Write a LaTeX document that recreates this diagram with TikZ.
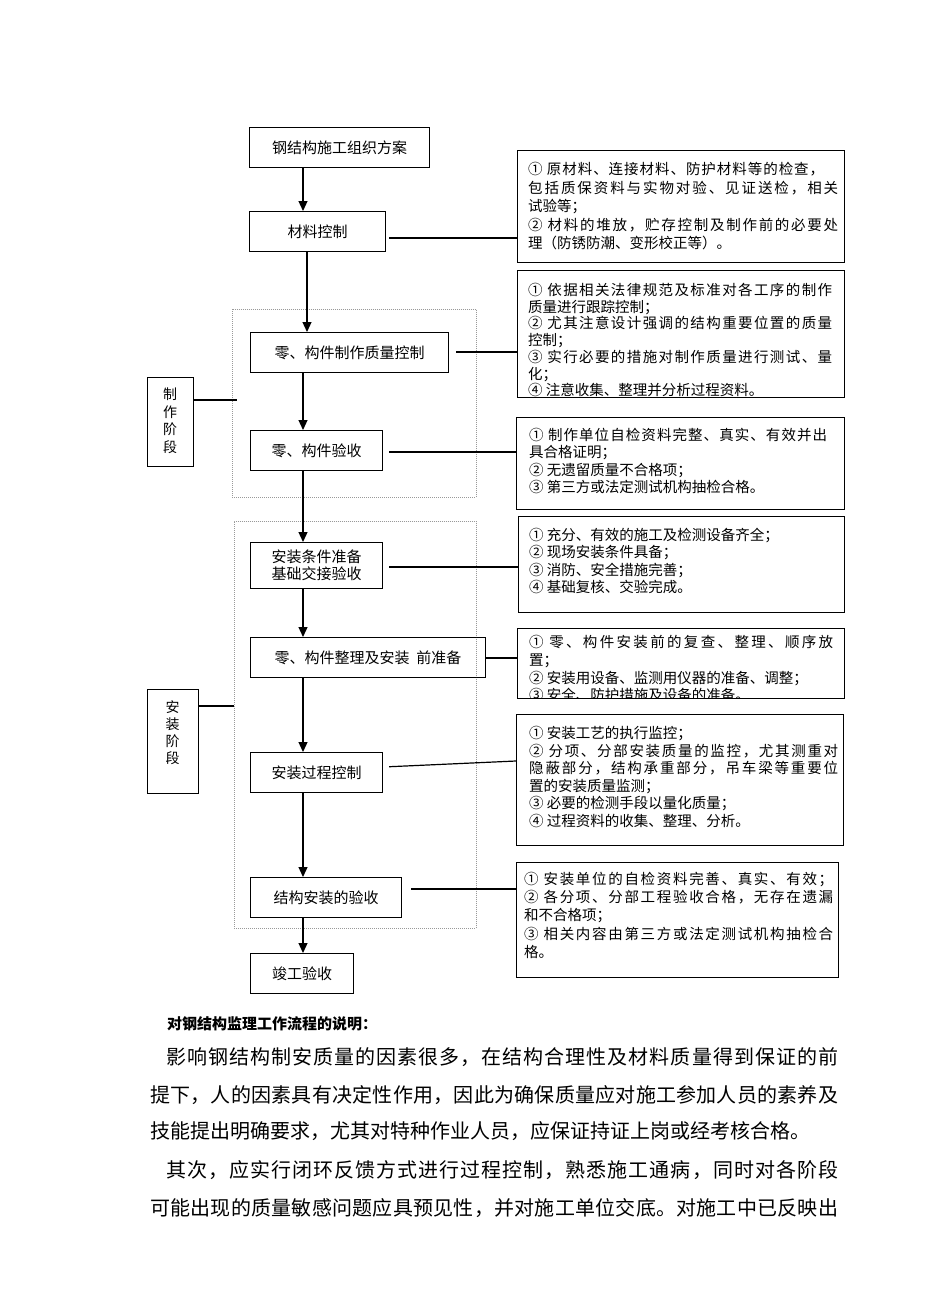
\documentclass[tikz,border=0pt]{standalone}
\usepackage{fontspec}
\setmainfont{Noto Sans CJK SC}
\usetikzlibrary{arrows.meta}
\newcommand\jl[2]{\makebox[#1][s]{\jla#2\relax}}
\def\jla#1#2{#1\ifx#2\relax\else\hfil\expandafter\jla\expandafter#2\fi}
\tikzset{
  flowbox/.style={draw, line width=1.2pt, inner sep=0pt, anchor=north west, align=center, font=\fontsize{15}{17}\selectfont},
  notebox/.style={draw, line width=1.2pt, inner sep=0pt, anchor=north west},
  notetext/.style={inner sep=0pt, anchor=base west, align=left},
  phasetext/.style={inner sep=0pt, anchor=base, align=center},
  stageframe/.style={draw=gray!80, line width=0.8pt, dash pattern=on 1pt off 1pt, inner sep=0pt, anchor=north west},
  conn/.style={line width=1.2pt},
  arr/.style={line width=1.2pt, -{Triangle[length=10pt,width=9pt]}},
  paraline/.style={inner sep=0pt, anchor=base west, font=\fontsize{20}{24}\selectfont},
}
\begin{document}
\begin{tikzpicture}[x=1pt,y=-1pt]
\useasboundingbox (0,0) rectangle (950,1316);
\fill[white] (0,0) rectangle (950,1316);

% stage frames
\node[stageframe, minimum width=244pt, minimum height=188pt] (f1) at (232,309) {};
\node[stageframe, minimum width=242pt, minimum height=407pt] (f2) at (234,521) {};

% flow boxes
\node[flowbox, minimum width=180pt, minimum height=40pt] (b1) at (249,127) {钢结构施工组织方案};
\node[flowbox, minimum width=136pt, minimum height=40pt] (b2) at (249,211) {材料控制};
\node[flowbox, minimum width=198pt, minimum height=40pt] (b3) at (250,332) {零、构件制作质量控制};
\node[flowbox, minimum width=132pt, minimum height=40pt] (b4) at (250,430) {零、构件验收};
\node[flowbox, minimum width=132pt, minimum height=46pt] (b5) at (250,542) {安装条件准备\\基础交接验收};
\node[flowbox, minimum width=235pt, minimum height=40pt] (b6) at (250,637) {零、构件整理及安装\ \ 前准备};
\node[flowbox, minimum width=132pt, minimum height=40pt] (b7) at (250,752) {安装过程控制};
\node[flowbox, minimum width=151pt, minimum height=40pt] (b8) at (250,877) {结构安装的验收};
\node[flowbox, minimum width=103pt, minimum height=40pt] (b9) at (250,953) {竣工验收};

% phase boxes
\node[notebox, minimum width=46pt, minimum height=89pt] (z1) at (147,377) {};
\node[phasetext, font=\fontsize{14}{17.7}\selectfont] (z1t) at (170,452.4) {制\\作\\阶\\段};
\node[notebox, minimum width=51pt, minimum height=104pt] (z2) at (147,689) {};
\node[phasetext, font=\fontsize{14}{17}\selectfont] (z2t) at (172.5,763.3) {安\\装\\阶\\段};

% note boxes
\node[notebox, minimum width=327pt, minimum height=112pt] (r1) at (517,150) {};
\node[notebox, minimum width=327pt, minimum height=127pt] (r2) at (517,270) {};
\node[notebox, minimum width=328pt, minimum height=92pt] (r3) at (516,417) {};
\node[notebox, minimum width=326pt, minimum height=96pt] (r4) at (518,516) {};
\node[notebox, minimum width=327pt, minimum height=70pt] (r5) at (517,628) {};
\node[notebox, minimum width=327pt, minimum height=131pt] (r6) at (516,714) {};
\node[notebox, minimum width=322pt, minimum height=115pt] (r7) at (516,862) {};

\node[notetext, font=\fontsize{14.5}{18.5}\selectfont] (r1t) at (528,248.5) {%
\jl{296pt}{{①\ }原材料、连接材料、防护材料等的检查，}\\
\jl{310pt}{包括质保资料与实物对验、见证送检，相关}\\
试验等；\\
\jl{310pt}{{②\ }材料的堆放，贮存控制及制作前的必要处}\\
理（防锈防潮、变形校正等）。};

\begin{scope}
\clip (517,270) rectangle (844,397);
\node[notetext, font=\fontsize{14.5}{16.7}\selectfont] (r2t) at (528,395.7) {%
\jl{304pt}{{①\ }依据相关法律规范及标准对各工序的制作}\\
质量进行跟踪控制；\\
\jl{304pt}{{②\ }尤其注意设计强调的结构重要位置的质量}\\
控制；\\
\jl{304pt}{{③\ }实行必要的措施对制作质量进行测试、量}\\
化；\\
④ 注意收集、整理并分析过程资料。};
\end{scope}

\node[notetext, font=\fontsize{14.5}{17.4}\selectfont] (r3t) at (529,492.7) {%
\jl{298pt}{{①\ }制作单位自检资料完整、真实、有效并出}\\
具合格证明；\\
② 无遗留质量不合格项；\\
③ 第三方或法定测试机构抽检合格。};

\node[notetext, font=\fontsize{14.5}{17.4}\selectfont] (r4t) at (529,592.7) {%
① 充分、有效的施工及检测设备齐全；\\
② 现场安装条件具备；\\
③ 消防、安全措施完善；\\
④ 基础复核、交验完成。};

\begin{scope}
\clip (517,628) rectangle (844,698);
\node[notetext, font=\fontsize{14.5}{17.8}\selectfont] (r5t) at (529,700.9) {%
\jl{304pt}{{①\ }零、构件安装前的复查、整理、顺序放}\\
置；\\
② 安装用设备、监测用仪器的准备、调整；\\
③ 安全、防护措施及设备的准备。};
\end{scope}

\node[notetext, font=\fontsize{14.5}{17.6}\selectfont] (r6t) at (529,826.5) {%
① 安装工艺的执行监控；\\
\jl{309pt}{{②\ }分项、分部安装质量的监控，尤其测重对}\\
\jl{309pt}{隐蔽部分，结构承重部分，吊车梁等重要位}\\
置的安装质量监测；\\
③ 必要的检测手段以量化质量；\\
④ 过程资料的收集、整理、分析。};

\node[notetext, font=\fontsize{14.5}{18.2}\selectfont] (r7t) at (524,957.3) {%
\jl{309pt}{{①\ }安装单位的自检资料完善、真实、有效；}\\
\jl{309pt}{{②\ }各分项、分部工程验收合格，无存在遗漏}\\
和不合格项；\\
\jl{309pt}{{③\ }相关内容由第三方或法定测试机构抽检合}\\
格。};

% arrows
\coordinate (ax) at (303,0);
\coordinate (ax2) at (307,0);
\draw[arr] (b1.south -| ax) -- (b2.north -| ax);
\draw[arr] (b2.south -| ax2) -- (b3.north -| ax2);
\draw[arr] (b3.south -| ax) -- (b4.north -| ax);
\draw[arr] (b4.south -| ax) -- (b5.north -| ax);
\draw[arr] (b5.south -| ax) -- (b6.north -| ax);
\draw[arr] (b6.south -| ax) -- (b7.north -| ax);
\draw[arr] (b7.south -| ax) -- (b8.north -| ax);
\draw[arr] (b8.south -| ax) -- (b9.north -| ax);

% side connectors
\coordinate (s1) at (0,238);
\coordinate (s2) at (0,352);
\coordinate (s3) at (0,452);
\coordinate (s4) at (0,567);
\coordinate (s5) at (0,658);
\coordinate (s6a) at (0,767);
\coordinate (s6b) at (0,761);
\coordinate (s7) at (0,889);
\draw[conn, shorten <=3pt] (b2.east |- s1) -- (r1.west |- s1);
\draw[conn, shorten <=7pt] (b3.east |- s2) -- (r2.west |- s2);
\draw[conn, shorten <=6pt] (b4.east |- s3) -- (r3.west |- s3);
\draw[conn, shorten <=6pt] (b5.east |- s4) -- (r4.west |- s4);
\draw[conn] (b6.east |- s5) -- (r5.west |- s5);
\draw[conn, shorten <=6pt] (b7.east |- s6a) -- (r6.west |- s6b);
\draw[conn, shorten <=9pt] (b8.east |- s7) -- (r7.west |- s7);

\coordinate (p1) at (237,400);
\draw[conn] (z1.east |- p1) -- (p1);
\coordinate (p2) at (0,706);
\draw[conn] (z2.east |- p2) -- (f2.west |- p2);

% explanatory text
\node[inner sep=0pt, anchor=base west, font=\fontsize{15}{17}\selectfont\bfseries] (hd) at (167,1029.5) {对钢结构监理工作流程的说明：};
\node[paraline] (pl1) at (166,1064.6) {\jl{672pt}{影响钢结构制安质量的因素很多，在结构合理性及材料质量得到保证的前}};
\node[paraline] (pl2) at (150,1102.6) {\jl{688pt}{提下，人的因素具有决定性作用，因此为确保质量应对施工参加人员的素养及}};
\node[paraline] (pl3) at (150,1138.6) {技能提出明确要求，尤其对特种作业人员，应保证持证上岗或经考核合格。};
\node[paraline] (pl4) at (166,1177) {\jl{672pt}{其次，应实行闭环反馈方式进行过程控制，熟悉施工通病，同时对各阶段}};
\node[paraline] (pl5) at (150,1215) {\jl{688pt}{可能出现的质量敏感问题应具预见性，并对施工单位交底。对施工中已反映出}};
\end{tikzpicture}
\end{document}
